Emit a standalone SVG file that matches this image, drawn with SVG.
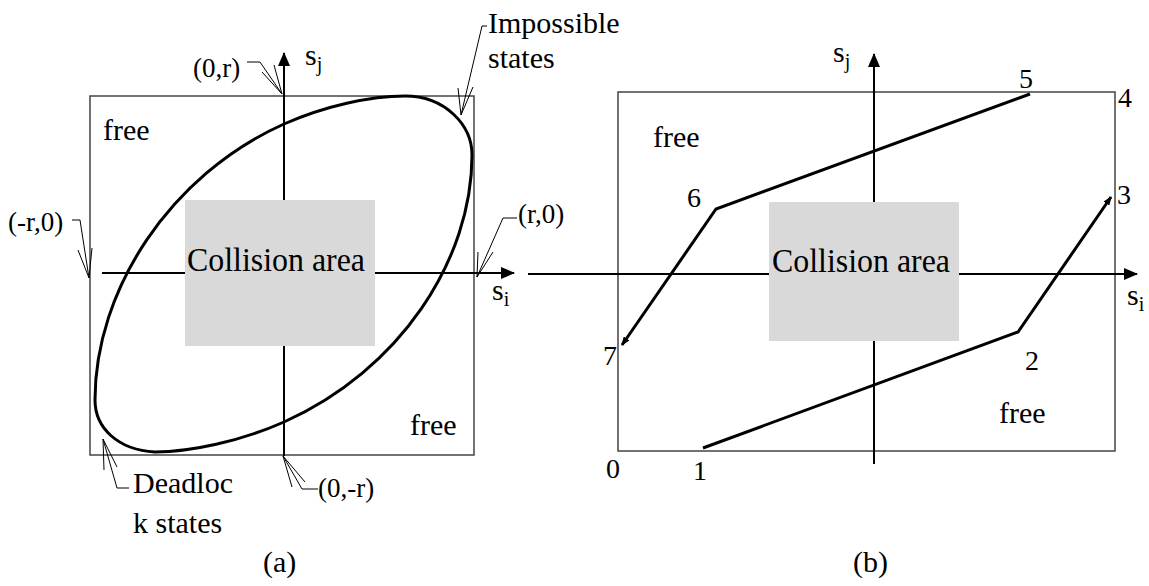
<svg xmlns="http://www.w3.org/2000/svg" width="1149" height="586" viewBox="0 0 1149 586">
<style>
text{font-family:'Liberation Serif','Times New Roman',serif;fill:#000}
.t{font-size:30px}
.s{font-size:27px}
.n{font-size:28px}
.sub{font-size:20px}
.ca{font-size:34px}
.box{fill:none;stroke:#444;stroke-width:1.5}
.ax{fill:none;stroke:#000;stroke-width:2}
.cur{fill:none;stroke:#000;stroke-width:3}
.ld{fill:none;stroke:#000;stroke-width:1}
.gray{fill:#d9d9d9;stroke:none}
</style>
<defs>
<marker id="axh" markerWidth="14" markerHeight="12" refX="13" refY="6" orient="auto" markerUnits="userSpaceOnUse">
<path d="M0,0 L14,6 L0,12 Z" fill="#000"/>
</marker>
<marker id="sh" markerWidth="9" markerHeight="7" refX="8" refY="3.5" orient="auto" markerUnits="userSpaceOnUse">
<path d="M0,0 L9,3.5 L0,7 Z" fill="#000"/>
</marker>
</defs>

<g id="panel-a">
<rect id="boxA" class="box" x="90" y="96" width="384" height="359"/>
<g id="axesA">
<line class="ax" x1="284" y1="456" x2="284" y2="53" marker-end="url(#axh)"/>
<line class="ax" x1="102" y1="273" x2="514" y2="273" marker-end="url(#axh)"/>
</g>
<g id="curveA">
<path class="cur" d="M405,96 C445,96 472,125 472,155 C472,260 400,370 284,422 C240,441.5 190,452 155,452 C118,450 95,428 95,400 C95,290 170,175 284,124 C325,106 370,96 405,96 Z"/>
</g>
<g id="collisionA">
<rect class="gray" x="185" y="200" width="190" height="146"/>
<text class="ca" x="187" y="271" textLength="178" lengthAdjust="spacingAndGlyphs">Collision area</text>
</g>
<g id="labelsA">
<text class="t" x="103" y="140">free</text>
<text class="t" x="410" y="435">free</text>
<text class="t" x="305" y="65">s<tspan class="sub" dy="6">j</tspan></text>
<text class="t" x="492" y="300">s<tspan class="sub" dy="6">i</tspan></text>
<text class="t" x="263" y="572">(a)</text>
</g>
<g id="leaders">
<path class="ld" d="M247,62 H260 L282,94 M262,72 L282,94 L274,65"/>
<path class="ld" d="M487,26 H482 L461,115 M458,88 L461,115 L473,87"/>
<path class="ld" d="M517,218 H503 L477,277 M478,252 L477,277 L493,252"/>
<path class="ld" d="M72,220 H80 L89,278 M78,250 L89,278 L92,248"/>
<path class="ld" d="M129,488 H117 L103,439 M104,470 L103,439 L117,467"/>
<path class="ld" d="M318,489 H302 L283,456 M292,487 L283,456 L305,482"/>
</g>
<g id="leaderLabels">
<text class="s" x="193" y="77">(0,r)</text>
<text class="t" x="488" y="33">Impossible</text>
<text class="t" x="488" y="68">states</text>
<text class="s" x="518" y="223">(r,0)</text>
<text class="s" x="8" y="231">(-r,0)</text>
<text class="t" x="133" y="493">Deadloc</text>
<text class="t" x="133" y="533">k states</text>
<text class="s" x="318" y="497">(0,-r)</text>
</g>
</g>

<g id="panel-b">
<rect id="boxB" class="box" x="618" y="92" width="497" height="359"/>
<g id="axesB">
<line class="ax" x1="874" y1="464" x2="874" y2="54" marker-end="url(#axh)"/>
<line class="ax" x1="528" y1="274" x2="1137" y2="274" marker-end="url(#axh)"/>
</g>
<g id="collisionB">
<rect class="gray" x="769" y="202" width="190" height="139"/>
<text class="ca" x="772" y="272" textLength="178" lengthAdjust="spacingAndGlyphs">Collision area</text>
</g>
<g id="paths">
<polyline class="cur" points="1030,94 716,209 622,345" marker-end="url(#sh)"/>
<polyline class="cur" points="703,448 1018,332 1111,197" marker-end="url(#sh)"/>
</g>
<g id="labelsB">
<text class="t" x="653" y="147">free</text>
<text class="t" x="999" y="423">free</text>
<text class="t" x="833" y="62">s<tspan class="sub" dy="6">j</tspan></text>
<text class="t" x="1127" y="305">s<tspan class="sub" dy="6">i</tspan></text>
<text class="n" x="606" y="478">0</text>
<text class="n" x="693" y="480">1</text>
<text class="n" x="1025" y="370">2</text>
<text class="n" x="1117" y="204">3</text>
<text class="n" x="1118" y="107">4</text>
<text class="n" x="1019" y="88">5</text>
<text class="n" x="687" y="207">6</text>
<text class="n" x="603" y="365">7</text>
<text class="t" x="853" y="572">(b)</text>
</g>
</g>
</svg>
